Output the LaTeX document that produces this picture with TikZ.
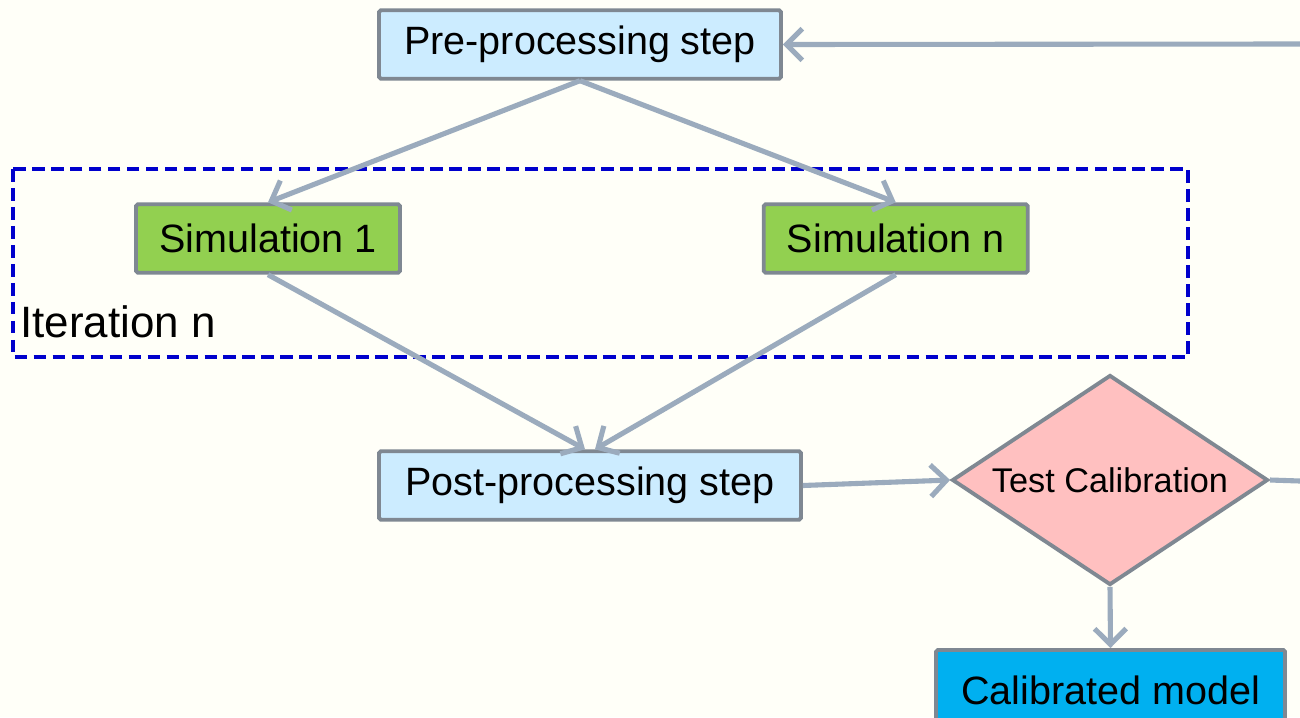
\documentclass[tikz,border=0pt]{standalone}
\usepackage{fontspec}
\setmainfont{Liberation Sans}
\usetikzlibrary{positioning,shapes.geometric,arrows.meta}

\definecolor{bgcol}{RGB}{255,255,248}
\definecolor{edgegray}{RGB}{127,136,146}
\definecolor{flowgray}{RGB}{155,171,189}
\definecolor{stepblue}{RGB}{204,236,255}
\definecolor{simgreen}{RGB}{146,208,80}
\definecolor{testpink}{RGB}{255,192,192}
\definecolor{modelblue}{RGB}{0,176,240}
\definecolor{iterblue}{RGB}{0,0,204}

\begin{document}
\begin{tikzpicture}[
x=0.02cm, y=-0.02cm,
box/.style={rectangle, draw=edgegray, line width=2.2pt, rounded corners=1pt, align=center, inner sep=0pt, minimum height=1.37cm, font=\fontsize{22.5}{27}\selectfont},
test/.style={diamond, aspect=1.5, draw=edgegray, fill=testpink, line width=2.2pt, inner sep=0pt, minimum width=6.32cm, minimum height=4.2cm, font=\fontsize{19.5}{23}\selectfont},
flowline/.style={draw=flowgray, line width=2.9pt},
flow/.style={flowline, -{Straight Barb[length=9pt, width=18pt]}},
iterframe/.style={draw=iterblue, line width=2.2pt, dash pattern=on 7.2pt off 3.6pt}
]

\fill[bgcol] (0,0) rectangle (1300,717);
\useasboundingbox (0,0) rectangle (1300,717);

\draw[iterframe] (13,169) rectangle (1188,357);
\node[anchor=base west, inner sep=0pt, font=\fontsize{25}{30}\selectfont] (iterlabel) at (20,337) {Iteration n};

\node[box, fill=stepblue, minimum width=8.04cm] (pre) at (580,44.5) {Pre-processing step};
\node[box, fill=simgreen, minimum width=5.28cm] (sim1) at (268,238.5) {Simulation 1};
\node[box, fill=simgreen, minimum width=5.28cm, right=7.2cm of sim1] (simn) {Simulation n};
\node[box, fill=stepblue, minimum width=8.44cm] (post) at (590,485.5) {Post-processing step};
\node[test] (tc) at (1110,480) {Test Calibration};
\node[box, fill=modelblue, minimum width=6.98cm, minimum height=1.6cm, anchor=north] (calib) at (1110.5,648) {Calibrated model};

\coordinate (loopout) at (1300,481);
\coordinate (loopin) at (1300,44);

\draw[flow] (pre.south) -- (sim1.north);
\draw[flow] (pre.south) -- (simn.north);
\draw[flow] (sim1.south) -- ([xshift=-0.1cm]post.north);
\draw[flow] (simn.south) -- ([xshift=0.1cm]post.north);
\draw[flow] (post.east) -- (tc.west);
\draw[flowline] (tc.east) -- (loopout);
\draw[flow] (loopin) -- (pre.east);
\draw[flow] (tc.south) -- (calib.north);

\end{tikzpicture}
\end{document}
